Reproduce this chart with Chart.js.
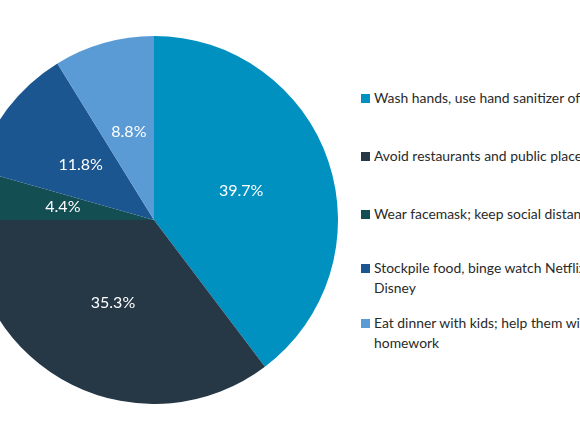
<!DOCTYPE html>
<html>
<head>
<meta charset="utf-8">
<script src="https://cdn.jsdelivr.net/npm/chart.js@4"></script>
<style>
  html, body { margin:0; padding:0; background:#fff; width:580px; height:435px; overflow:hidden; position:relative; }
  #pie { position:absolute; left:-30px; top:36px; }
  .leg { position:absolute; left:361px; width:260px; font-family:Lato, "Open Sans", sans-serif; font-size:13.9px; line-height:20px; color:#2a2a2a; white-space:normal; }
  .leg i { position:absolute; left:0; top:6px; width:9px; height:9px; }
  .leg span { display:block; margin-left:13px; }
</style>
</head>
<body>
<canvas id="pie" width="368" height="368"></canvas>
<div id="legend"></div>
<script>
const labels = [
  'Wash hands, use hand sanitizer often',
  'Avoid restaurants and public places',
  'Wear facemask; keep social distance',
  'Stockpile food, binge watch Netflix, Disney',
  'Eat dinner with kids; help them with homework'
];
const shares = [39.7, 35.3, 4.4, 11.8, 8.8];
const colors = ['#0091c1', '#263746', '#134e53', '#1c5690', '#5b9bd5'];
const legendTops = [88, 146, 204, 258, 313];

// legenda
document.getElementById('legend').innerHTML = labels.map((t, i) =>
  `<div class="leg" style="top:${legendTops[i]}px"><i style="background:${colors[i]}"></i><span>${t}</span></div>`
).join('');

// rótulos de porcentagem dentro das fatias
const sliceLabels = {
  id: 'sliceLabels',
  afterDatasetsDraw(chart) {
    const ctx = chart.ctx;
    const meta = chart.getDatasetMeta(0);
    ctx.save();
    ctx.fillStyle = '#fff';
    ctx.font = '16px Lato, "Open Sans", sans-serif';
    ctx.textAlign = 'center';
    ctx.textBaseline = 'middle';
    meta.data.forEach((arc, i) => {
      const p = arc.getCenterPoint();
      ctx.fillText(shares[i].toFixed(1) + '%', p.x, p.y);
    });
    ctx.restore();
  }
};

new Chart(document.getElementById('pie'), {
  type: 'pie',
  data: {
    labels: labels,
    datasets: [{ data: shares, backgroundColor: colors, borderWidth: 0, hoverOffset: 0 }]
  },
  options: {
    responsive: false,
    animation: false,
    layout: { padding: 0 },
    plugins: { legend: { display: false }, tooltip: { enabled: false } }
  },
  plugins: [sliceLabels]
});
</script>
</body>
</html>
